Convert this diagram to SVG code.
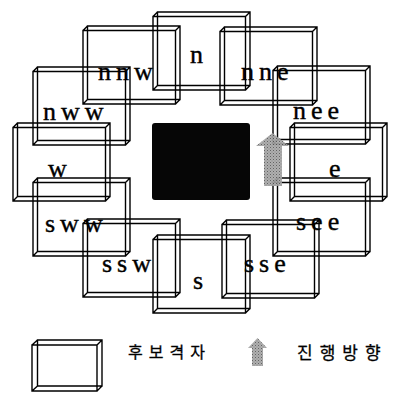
<svg xmlns="http://www.w3.org/2000/svg" width="396" height="393" viewBox="0 0 396 393">
<style>
.box{fill:none;stroke:#000;stroke-width:1.4;stroke-linejoin:miter}
.lbl{font-family:"Liberation Serif","Times New Roman",serif;font-size:26px;letter-spacing:5px;fill:#000;stroke:#000;stroke-width:0.4}
.ko{font-family:"Noto Sans CJK KR","Noto Sans",sans-serif;fill:#000;stroke:#000;stroke-width:0.3}
.arrow{fill:url(#stipple);opacity:0.92}
</style>
<defs>
<pattern id="stipple" width="3" height="3" patternUnits="userSpaceOnUse">
<rect width="3" height="3" fill="#a8a8a8"/>
<rect x="0" y="0" width="1" height="1" fill="#555"/>
<rect x="1.5" y="1.5" width="1" height="1" fill="#777"/>
</pattern>
<path id="frame" d="M0,4.5 H92.5 V78 H0 Z M4.5,0 H97 V73.5 H4.5 Z M0,4.5 L4.5,0 M92.5,4.5 L97,0 M92.5,78 L97,73.5 M0,78 L4.5,73.5"/>
</defs>
<rect width="396" height="393" fill="#fff"/>
<g id="center"><rect x="152" y="123" width="98" height="77" rx="3" fill="#060606"/></g>
<g id="n"><use href="#frame" class="box" transform="translate(153,12)"/><text class="lbl" x="190" y="63">n</text></g>
<g id="nnw"><use href="#frame" class="box" transform="translate(83,26)"/><text class="lbl" x="98" y="80">nnw</text></g>
<g id="nne"><use href="#frame" class="box" transform="translate(220,27)"/><text class="lbl" x="241" y="80">nne</text></g>
<g id="nww"><use href="#frame" class="box" transform="translate(33,67)"/><text class="lbl" x="43" y="120">nww</text></g>
<g id="nee"><use href="#frame" class="box" transform="translate(273,66)"/><text class="lbl" x="293" y="119">nee</text></g>
<g id="w"><use href="#frame" class="box" transform="translate(13,123)"/><text class="lbl" x="48" y="177">w</text></g>
<g id="e"><use href="#frame" class="box" transform="translate(290,123)"/><text class="lbl" x="329" y="177">e</text></g>
<g id="sww"><use href="#frame" class="box" transform="translate(33,178)"/><text class="lbl" x="45" y="232">sww</text></g>
<g id="see"><use href="#frame" class="box" transform="translate(273,178)"/><text class="lbl" x="296" y="230">see</text></g>
<g id="ssw"><use href="#frame" class="box" transform="translate(83,219)"/><text class="lbl" x="102" y="272">ssw</text></g>
<g id="sse"><use href="#frame" class="box" transform="translate(222,220)"/><text class="lbl" x="244" y="272">sse</text></g>
<g id="s"><use href="#frame" class="box" transform="translate(153,235)"/><text class="lbl" x="193" y="289">s</text></g>
<g id="connectors">
<path id="direction-arrow" class="arrow" d="M272.5,133 L289,146 L282,146 L282,186 L264,186 L264,146 L256,146 Z"/>
</g>
<g id="legend">
<path class="box" d="M32,345 H97 V391 H32 Z M37.5,340 H102 V386 H37.5 Z M32,345 L37.5,340 M97,345 L102,340 M97,391 L102,386 M32,391 L37.5,386"/>
<text class="ko" x="128" y="358" font-size="16" letter-spacing="6">후보격자</text>
<path class="arrow" d="M257.5,338 L267,348 L263,348 L263,366 L252,366 L252,348 L248,348 Z"/>
<text class="ko" x="297" y="359" font-size="17" letter-spacing="7">진행방향</text>
</g>
</svg>
